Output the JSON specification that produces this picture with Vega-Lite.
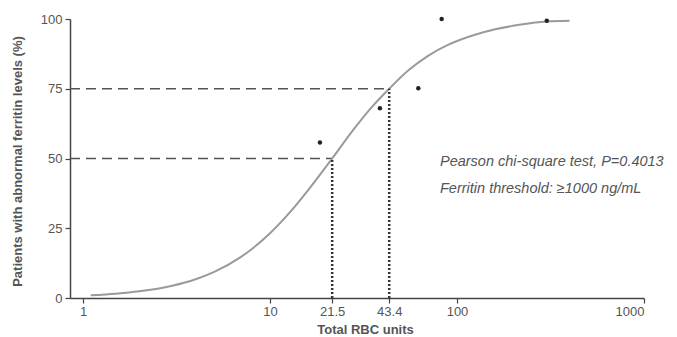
{
  "$schema": "https://vega.github.io/schema/vega-lite/v6.json",
  "width": 574,
  "height": 279,
  "autosize": {"type": "none"},
  "padding": {"left": 70, "top": 19, "right": 33, "bottom": 39},
  "background": "white",
  "config": {
    "view": {"stroke": null},
    "axis": {
      "grid": false,
      "domainColor": "#444",
      "domainWidth": 1.5,
      "tickColor": "#444",
      "tickWidth": 1.2,
      "tickSize": 5,
      "labelColor": "#555",
      "labelFont": "Liberation Sans",
      "labelFontSize": 13,
      "titleFont": "Liberation Sans",
      "titleFontSize": 13,
      "titleColor": "#555",
      "titleFontWeight": "bold"
    }
  },
  "datasets": {
    "curve": [
      {"x": 1.1, "y": 0.95},
      {"x": 1.5, "y": 1.53},
      {"x": 2, "y": 2.38},
      {"x": 3, "y": 4.39},
      {"x": 4, "y": 6.72},
      {"x": 5, "y": 9.27},
      {"x": 7, "y": 14.74},
      {"x": 10, "y": 23.2},
      {"x": 13, "y": 31.3},
      {"x": 16, "y": 38.7},
      {"x": 21.5, "y": 50},
      {"x": 28, "y": 60.4},
      {"x": 35, "y": 68.4},
      {"x": 43.4, "y": 75},
      {"x": 55, "y": 81.6},
      {"x": 70, "y": 86.8},
      {"x": 90, "y": 90.8},
      {"x": 120, "y": 94.0},
      {"x": 160, "y": 96.3},
      {"x": 220, "y": 98.0},
      {"x": 300, "y": 99.1},
      {"x": 400, "y": 99.4}
    ],
    "hdash": [
      {"x": 0.852, "x2": 21.5, "y": 50},
      {"x": 0.852, "x2": 43.4, "y": 75}
    ],
    "vdot": [
      {"x": 21.5, "y": 0, "y2": 50},
      {"x": 43.4, "y": 0, "y2": 75}
    ],
    "pts": [
      {"x": 18.5, "y": 55.7},
      {"x": 38.7, "y": 68},
      {"x": 62.1, "y": 75.2},
      {"x": 82.8, "y": 100},
      {"x": 302, "y": 99.4}
    ],
    "notes": [
      {"x": 81.1, "y": 48.7, "label": "Pearson chi-square test, P=0.4013"},
      {"x": 81.1, "y": 39.1, "label": "Ferritin threshold: ≥1000 ng/mL"}
    ]
  },
  "encoding": {
    "x": {
      "field": "x",
      "type": "quantitative",
      "scale": {"type": "log", "domain": [0.852, 1000]},
      "axis": {
        "values": [1, 10, 21.5, 43.4, 100, 1000],
        "format": "~g",
        "labelPadding": 2,
        "title": "Total RBC units",
        "titleX": 295,
        "titleY": 35,
        "titleBaseline": "alphabetic"
      }
    },
    "y": {
      "field": "y",
      "type": "quantitative",
      "scale": {"domain": [0, 100]},
      "axis": {
        "values": [0, 25, 50, 75, 100],
        "labelPadding": 3,
        "title": "Patients with abnormal ferritin levels (%)",
        "titleAngle": -90,
        "titleAlign": "center",
        "titleBaseline": "middle",
        "titleX": -53,
        "titleY": 142
      }
    }
  },
  "layer": [
    {
      "data": {"name": "hdash"},
      "mark": {"type": "rule", "color": "#555", "strokeWidth": 1.6, "strokeDash": [10, 6]},
      "encoding": {"x2": {"field": "x2"}}
    },
    {
      "data": {"name": "curve"},
      "mark": {"type": "line", "color": "#9a9a9a", "strokeWidth": 2, "interpolate": "monotone"},
      "encoding": {}
    },
    {
      "data": {"name": "vdot"},
      "mark": {"type": "rule", "color": "#333", "strokeWidth": 2.5, "strokeDash": [2, 2]},
      "encoding": {"y2": {"field": "y2"}}
    },
    {
      "data": {"name": "pts"},
      "mark": {"type": "circle", "color": "#222", "size": 20, "opacity": 1},
      "encoding": {}
    },
    {
      "data": {"name": "notes"},
      "mark": {"type": "text", "align": "left", "baseline": "middle", "font": "Liberation Sans", "fontStyle": "italic", "fontSize": 14.5, "color": "#555"},
      "encoding": {"text": {"field": "label"}}
    }
  ]
}
